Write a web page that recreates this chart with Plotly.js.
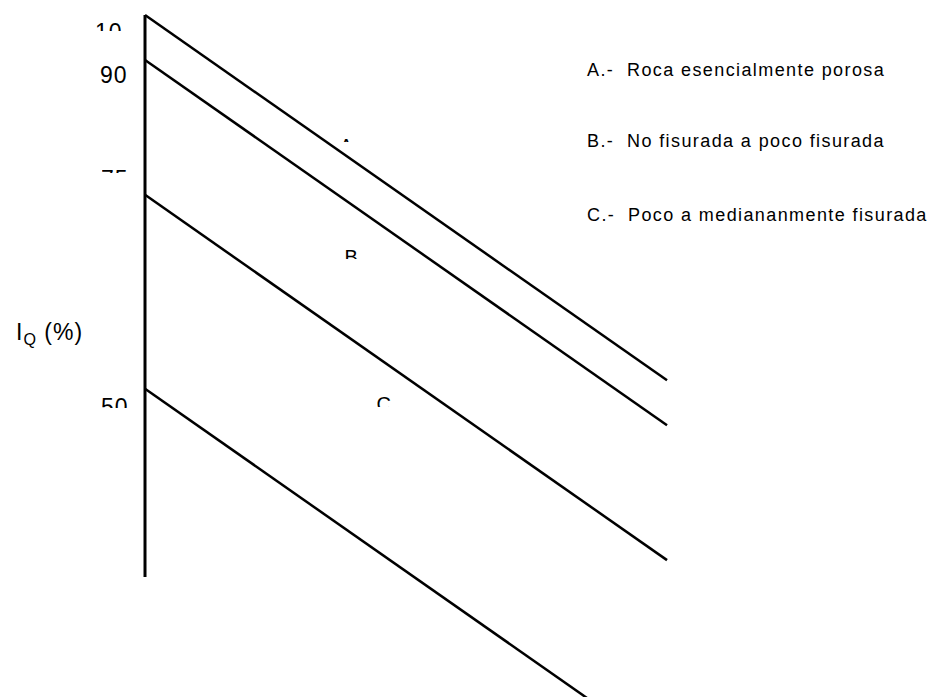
<!DOCTYPE html>
<html>
<head>
<meta charset="utf-8">
<script src="https://cdn.plot.ly/plotly-3.0.1.min.js"></script>
<style>
  html, body { margin: 0; padding: 0; background: #fff; }
  #chart { width: 930px; height: 697px; }
  #chart .annotation-text { letter-spacing: 1px; }
  #chart .annotation[data-index="8"] .annotation-text,
  #chart .annotation[data-index="9"] .annotation-text,
  #chart .annotation[data-index="10"] .annotation-text { letter-spacing: 1.4px; }
</style>
</head>
<body>
<div id="chart"></div>
<script>
// zone boundary lines, I_Q (%) at left axis and at the right end
const boundaryNames = ["A", "B", "C", "D"];
const iqAtAxis = [100, 92, 68, 33.5];
const iqAtEnd = [35, 27, 3, -31.5];
const xAxisPos = 0;
const xEndPos = 10;
const axisSpan = [100, 0];

const tickLabels = ["10", "90", "75", "50"];
const zoneLetters = ["A", "B", "C"];
const legendTexts = [
  "A.-\u00a0 Roca esencialmente porosa",
  "B.-\u00a0 No fisurada a poco fisurada",
  "C.-\u00a0 Poco a mediananmente fisurada",
];

const W = 930, H = 697;
const FONT = "Arial, 'Liberation Sans', sans-serif";
const px = (v) => v / W;
const py = (v) => 1 - v / H;

const traces = [];

traces.push({
  type: "scatter",
  mode: "lines",
  x: [xAxisPos, xAxisPos],
  y: axisSpan,
  line: { width: 3, color: "#000" },
  hoverinfo: "skip",
  showlegend: false,
});

boundaryNames.forEach((name, i) => {
  traces.push({
    type: "scatter",
    mode: "lines",
    name: name,
    x: [xAxisPos, xEndPos],
    y: [iqAtAxis[i], iqAtEnd[i]],
    line: { width: 2.5, color: "#000" },
    hoverinfo: "skip",
    showlegend: false,
  });
});

// clipped labels: [text, centre x px, box top px, visible height, font size]
const clipped = [
  [tickLabels[0], 109, 17, 12, 23],
  [tickLabels[2], 115, 164, 7, 23],
  [tickLabels[3], 115, 392, 14, 23],
  [zoneLetters[0], 347, 133, 7, 20],
  [zoneLetters[1], 351.5, 244, 13, 20],
  [zoneLetters[2], 384, 391, 14, 20],
];

const annotations = clipped.map(([text, x, top, h, size]) => ({
  xref: "paper", yref: "paper",
  x: px(x), y: py(top),
  xanchor: "center", yanchor: "top",
  text: text,
  height: h,
  valign: "top",
  showarrow: false,
  font: { family: FONT, size: size, color: "#000" },
}));

annotations.push({
  xref: "paper", yref: "paper",
  x: px(114), y: py(75),
  xanchor: "center", yanchor: "middle",
  text: tickLabels[1],
  showarrow: false,
  font: { family: FONT, size: 23, color: "#000" },
});

annotations.push({
  xref: "paper", yref: "paper",
  x: px(14), y: py(333),
  xanchor: "left", yanchor: "middle",
  align: "left",
  text: "I<sub>Q</sub>\u00a0(%)",
  showarrow: false,
  font: { family: FONT, size: 23, color: "#000" },
});

const legendY = [70, 141, 215];
legendTexts.forEach((t, i) => {
  annotations.push({
    xref: "paper", yref: "paper",
    x: px(585), y: py(legendY[i]),
    xanchor: "left", yanchor: "middle",
    align: "left",
    text: t,
    showarrow: false,
    font: { family: FONT, size: 18, color: "#000" },
  });
});

const layout = {
  width: W,
  height: H,
  margin: { l: 0, r: 0, t: 0, b: 0 },
  paper_bgcolor: "#fff",
  plot_bgcolor: "#fff",
  xaxis: { visible: false, range: [-2.778, 15.038], fixedrange: true },
  yaxis: { visible: false, range: [-21.352, 102.669], fixedrange: true },
  annotations: annotations,
  showlegend: false,
};

Plotly.newPlot("chart", traces, layout, { staticPlot: true, displayModeBar: false });
</script>
</body>
</html>
